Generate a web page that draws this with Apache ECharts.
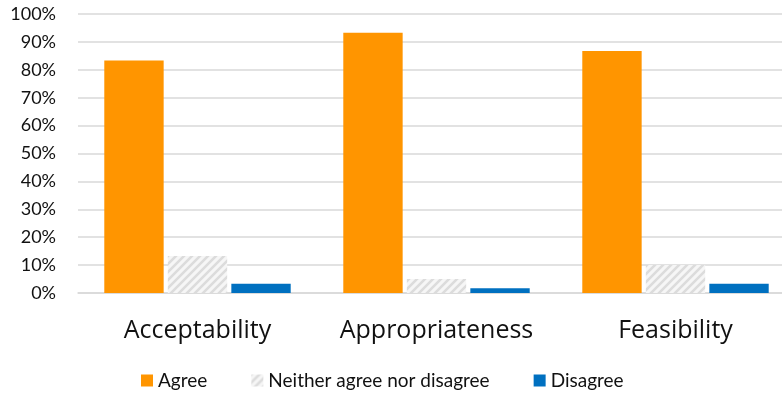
<!DOCTYPE html>
<html>
<head>
<meta charset="utf-8">
<script src="https://cdn.jsdelivr.net/npm/echarts@6/dist/echarts.min.js"></script>
<style>
  html, body { margin: 0; padding: 0; background: #fff; overflow: hidden; }
  #main { width: 796px; height: 398px; }
</style>
</head>
<body>
<div id="main"></div>
<script>
var categories = ['Acceptability', 'Appropriateness', 'Feasibility'];
var agree = [83.3, 93.3, 86.7];
var neither = [13.3, 5.0, 10.0];
var disagree = [3.3, 1.7, 3.3];
var yTicks = [0, 10, 20, 30, 40, 50, 60, 70, 80, 90, 100];

// hatched fill for the "neither" series
var hatch = document.createElement('canvas');
hatch.width = 8; hatch.height = 8;
var ctx = hatch.getContext('2d');
ctx.fillStyle = '#f6f6f6';
ctx.fillRect(0, 0, 8, 8);
ctx.strokeStyle = '#dcdcdc';
ctx.lineWidth = 2.5;
ctx.beginPath();
ctx.moveTo(-2, 10); ctx.lineTo(10, -2);
ctx.moveTo(-6, 6); ctx.lineTo(6, -6);
ctx.moveTo(2, 14); ctx.lineTo(14, 2);
ctx.stroke();

var font = 'Lato, "Open Sans", sans-serif';
var myChart = echarts.init(document.getElementById('main'));
var option = {
  animation: false,
  grid: { left: 78, right: 1, top: 14, bottom: 105 },
  legend: {
    bottom: 3,
    left: 136,
    itemWidth: 12,
    itemHeight: 12,
    itemGap: 44,
    icon: 'rect',
    textStyle: { fontSize: 19, color: '#111', fontFamily: font },
    data: ['Agree', 'Neither agree nor disagree', 'Disagree']
  },
  xAxis: {
    type: 'category',
    data: categories,
    axisTick: { show: false },
    axisLine: { lineStyle: { color: '#d9d9d9', width: 1.5 } },
    axisLabel: { interval: 0, fontSize: 25, color: '#111', margin: 25, fontFamily: '"Open Sans", sans-serif' }
  },
  yAxis: {
    type: 'value',
    min: 0, max: 100, interval: 10,
    axisLabel: {
      fontSize: 18, color: '#111', margin: 22, fontFamily: font,
      formatter: function (v) { return yTicks.indexOf(v) >= 0 ? v + '%' : ''; }
    },
    splitLine: { lineStyle: { color: '#d9d9d9', width: 1.5 } }
  },
  series: [
    { name: 'Agree', type: 'bar', data: agree, barGap: '7%', barCategoryGap: '22%',
      itemStyle: { color: '#ff9500' } },
    { name: 'Neither agree nor disagree', type: 'bar', data: neither,
      itemStyle: { color: { image: hatch, repeat: 'repeat' } } },
    { name: 'Disagree', type: 'bar', data: disagree,
      itemStyle: { color: '#0070c0' } }
  ]
};
myChart.setOption(option);
</script>
</body>
</html>
